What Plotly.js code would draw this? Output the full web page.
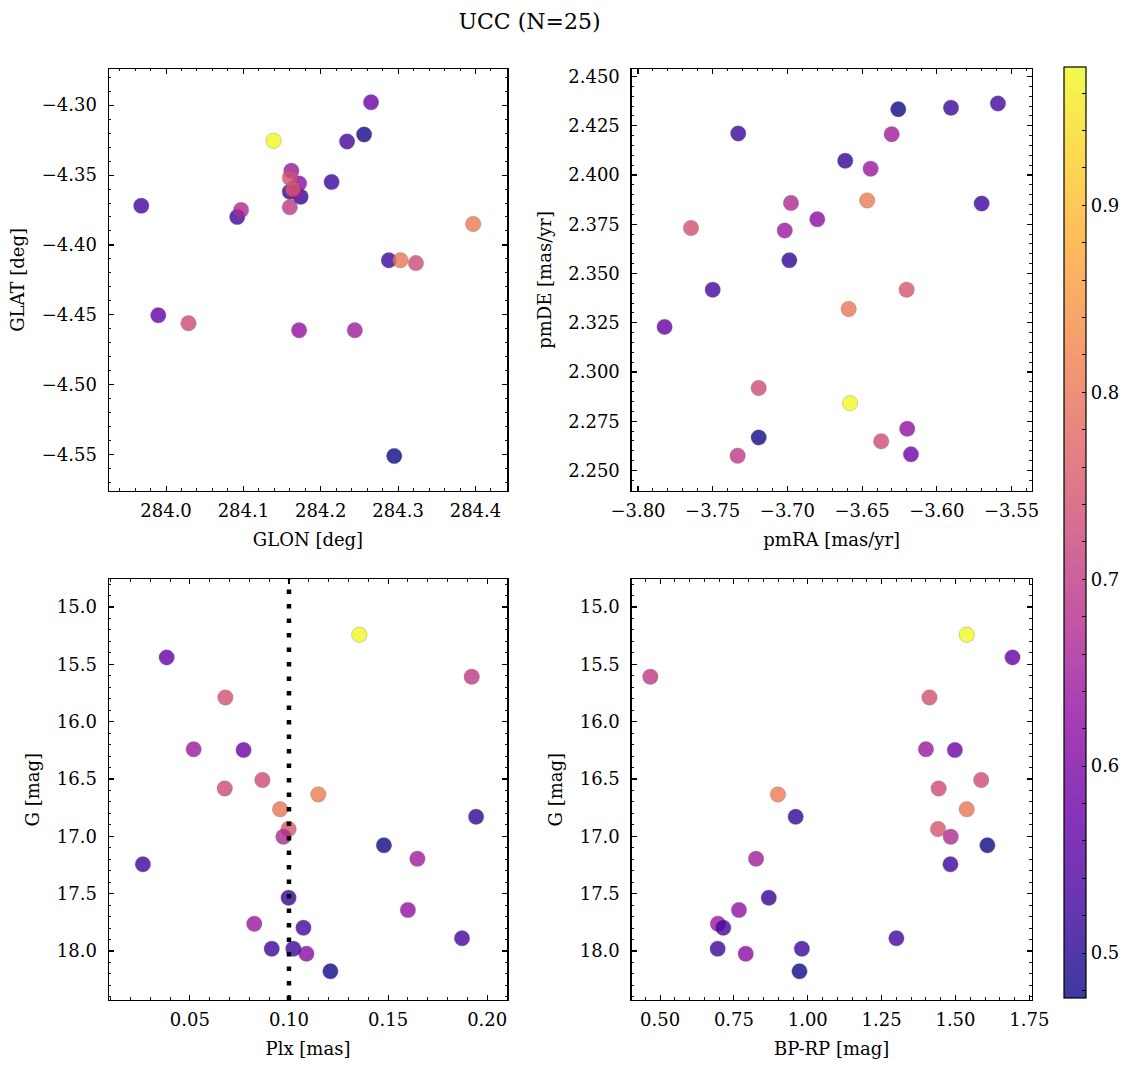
<!DOCTYPE html>
<html>
<head>
<meta charset="utf-8">
<script src="https://cdn.plot.ly/plotly-3.0.1.min.js"></script>
<style>html,body{margin:0;padding:0;background:#fff}#chart{width:1136px;height:1067px}</style>
</head>
<body>
<div id="chart"></div>
<script>
// ---- data: one entry per star (25 members) ----
const glon = [284.160, 284.162, 283.968, 284.092, 284.172, 284.172, 284.244, 284.160, 284.397, 284.174,
              284.214, 284.295, 284.234, 284.167, 284.160, 284.029, 284.164, 284.097, 284.288, 284.265,
              284.139, 284.303, 284.323, 284.256, 283.990];
const glat = [-4.373, -4.347, -4.372, -4.380, -4.461, -4.356, -4.461, -4.362, -4.385, -4.3655,
              -4.355, -4.551, -4.326, -4.362, -4.352, -4.456, -4.360, -4.375, -4.411, -4.298,
              -4.3255, -4.411, -4.413, -4.321, -4.4503];
const pmRA = [-3.7333, -3.7018, -3.7500, -3.7329, -3.6198, -3.6800, -3.6302, -3.6987, -3.6466, -3.6613,
              -3.5905, -3.6258, -3.5591, -3.6443, -3.7645, -3.7192, -3.6202, -3.6976, -3.5700, -3.6173,
              -3.6581, -3.6590, -3.6372, -3.7192, -3.7822];
const pmDE = [2.2575, 2.3718, 2.3418, 2.4211, 2.2712, 2.3775, 2.4207, 2.3567, 2.3871, 2.4072,
              2.4341, 2.4334, 2.4363, 2.4032, 2.3731, 2.2919, 2.3418, 2.3858, 2.3855, 2.2582,
              2.2842, 2.3320, 2.2648, 2.2668, 2.3229];
const plx = [0.1922, 0.0825, 0.1073, 0.0913, 0.1600, 0.1088, 0.1648, 0.0998, 0.1148, 0.1944,
             0.1022, 0.1209, 0.1873, 0.0519, 0.0679, 0.0676, 0.0998, 0.0972, 0.0263, 0.0771,
             0.1355, 0.0955, 0.0866, 0.1479, 0.0383];
const gmag = [15.608, 17.762, 17.797, 17.980, 17.642, 18.023, 17.195, 17.535, 16.634, 16.829,
              17.980, 18.177, 17.889, 16.241, 15.788, 16.582, 16.936, 17.003, 17.244, 16.247,
              15.241, 16.764, 16.509, 17.078, 15.439];
const bprp = [0.467, 0.696, 0.714, 0.695, 0.767, 0.790, 0.825, 0.868, 0.899, 0.959,
              0.980, 0.972, 1.300, 1.400, 1.412, 1.443, 1.441, 1.484, 1.483, 1.498,
              1.538, 1.538, 1.587, 1.608, 1.693];
const prob = [0.70, 0.64, 0.53, 0.52, 0.63, 0.62, 0.65, 0.51, 0.81, 0.51,
              0.52, 0.476, 0.53, 0.64, 0.74, 0.73, 0.75, 0.67, 0.52, 0.58,
              0.974, 0.80, 0.73, 0.48, 0.57];
const plxRef = 0.10;
const titleText = 'UCC (N=25)';
const cbTickVals = [0.5, 0.6, 0.7, 0.8, 0.9];

// ---- styles ----
const FONT = 'DejaVu Serif, serif';
const plasma = [[0.0,[13,8,135]],[0.1,[65,4,157]],[0.2,[106,0,168]],[0.3,[143,13,164]],[0.4,[177,42,144]],
                [0.5,[204,71,120]],[0.6,[225,100,98]],[0.7,[242,132,75]],[0.8,[252,166,54]],
                [0.9,[252,206,37]],[1.0,[240,249,33]]];
const ALPHA = 0.8;
const rawScale = plasma.map(([p,c]) => [p, `rgb(${c[0]},${c[1]},${c[2]})`]);
const blendScale = plasma.map(([p,c]) => [p, `rgb(${c.map(v => Math.round(ALPHA*v + (1-ALPHA)*255)).join(',')})`]);
const cmin = Math.min(...prob), cmax = Math.max(...prob);

function pts(x, y, xa, ya) {
  return {
    type: 'scatter', mode: 'markers', x: x, y: y, xaxis: xa, yaxis: ya,
    hoverinfo: 'skip', showlegend: false,
    marker: { size: 15.5, color: prob, colorscale: rawScale, cmin: cmin, cmax: cmax,
              opacity: ALPHA, showscale: false,
              line: { width: 0.6, color: 'rgba(90,90,90,0.55)' } }
  };
}

const cbTicks = [], cbText = [];
for (let i = 24; i <= 48; i++) { const v = i / 50; cbTicks.push(v); cbText.push(cbTickVals.some(t => Math.abs(t - v) < 1e-9) ? v.toFixed(1) : ''); }

const colorbarTrace = {
  type: 'scatter', mode: 'markers', x: glon, y: glat, xaxis: 'x', yaxis: 'y',
  hoverinfo: 'skip', showlegend: false,
  marker: { size: 1, opacity: 0, color: prob, colorscale: blendScale, cmin: cmin, cmax: cmax, showscale: true,
    colorbar: { x: 1063.5/1136, xanchor: 'left', xref: 'paper', xpad: 0, y: 1 - 532.5/1067, yanchor: 'middle', ypad: 0,
      len: 931/1067, lenmode: 'fraction', thickness: 22, thicknessmode: 'pixels',
      outlinewidth: 1.2, outlinecolor: '#000',
      ticks: 'inside', ticklen: 4, tickwidth: 1, tickcolor: '#000',
      tickmode: 'array', tickvals: cbTicks, ticktext: cbText, ticklabelstandoff: 3,
      tickfont: { family: FONT, size: 18, color: '#000' } } }
};

const traces = [
  pts(glon, glat, 'x', 'y'),
  pts(pmRA, pmDE, 'x2', 'y2'),
  pts(plx, gmag, 'x3', 'y3'),
  pts(bprp, gmag, 'x4', 'y4'),
  colorbarTrace
];

function axis(domain, range, dtick, mdtick, fmt, anchor, title, isY) {
  return {
    domain: domain, range: range, autorange: false, anchor: anchor,
    showline: true, linecolor: '#000', linewidth: 1.3, mirror: 'allticks',
    ticks: 'inside', ticklen: 5, tickwidth: 1.1, tickcolor: '#000',
    dtick: dtick, tick0: 0, tickformat: fmt,
    ticklabelstandoff: isY ? 7 : 3,
    minor: { dtick: mdtick, tick0: 0, ticks: 'inside', ticklen: 2.6, tickwidth: 0.9, tickcolor: '#000', showgrid: false },
    showgrid: false, zeroline: false,
    tickfont: { family: FONT, size: 18, color: '#000' },
    title: { text: title, font: { family: FONT, size: 18, color: '#000' }, standoff: isY ? 12 : 13 }
  };
}

const W = 1136, H = 1067;
const xL = [108.8/W, 507.2/W], xR = [631.7/W, 1031.7/W];
const yT = [1 - 491/H, 1 - 68.8/H], yB = [1 - 1000/H, 1 - 579.3/H];

const layout = {
  width: W, height: H,
  margin: { l: 0, r: 0, t: 0, b: 0 },
  paper_bgcolor: '#fff', plot_bgcolor: '#fff',
  font: { family: FONT, color: '#000' },
  title: { text: titleText, x: 529.5/W, xanchor: 'center', y: 1 - 21/H, yanchor: 'middle',
           font: { family: FONT, size: 22, color: '#000' } },
  xaxis:  axis(xL, [283.926, 284.441], 0.1, 0.02, '.1f', 'y', 'GLON [deg]', false),
  yaxis:  axis(yT, [-4.576, -4.274], 0.05, 0.01, '.2f', 'x', 'GLAT [deg]', true),
  xaxis2: axis(xR, [-3.8042, -3.5365], 0.05, 0.01, '.2f', 'y2', 'pmRA [mas/yr]', false),
  yaxis2: axis(yT, [2.2396, 2.4539], 0.025, 0.005, '.3f', 'x2', 'pmDE [mas/yr]', true),
  xaxis3: axis(xL, [0.0091, 0.2101], 0.05, 0.01, '.2f', 'y3', 'Plx [mas]', false),
  yaxis3: axis(yB, [18.427, 14.758], 0.5, 0.1, '.1f', 'x3', 'G [mag]', true),
  xaxis4: axis(xR, [0.404, 1.758], 0.25, 0.05, '.2f', 'y4', 'BP-RP [mag]', false),
  yaxis4: axis(yB, [18.427, 14.758], 0.5, 0.1, '.1f', 'x4', 'G [mag]', true),
  shapes: [{ type: 'line', xref: 'x3', yref: 'y3 domain', x0: plxRef, x1: plxRef, y0: 0, y1: 1,
             line: { color: '#000', width: 4.5, dash: '4.5px,10px' }, layer: 'above' }]
};

Plotly.newPlot('chart', traces, layout, { displayModeBar: false, staticPlot: true });
</script>
</body>
</html>
